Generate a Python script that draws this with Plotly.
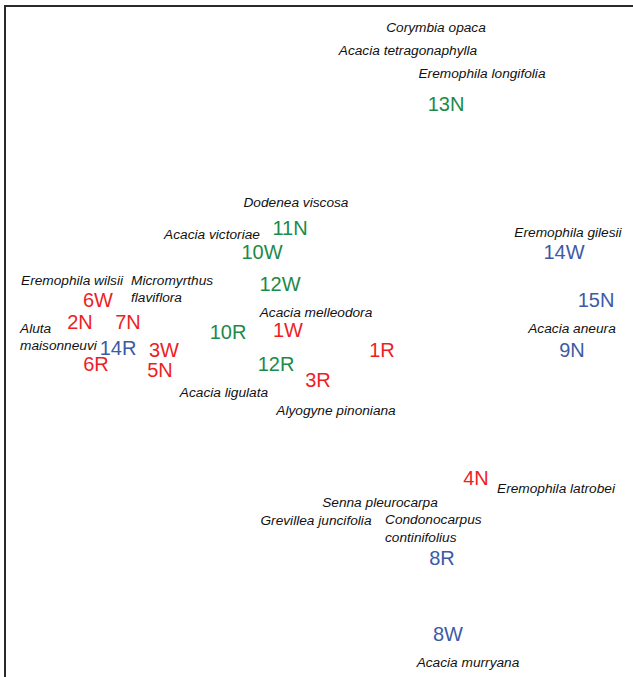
import plotly.graph_objects as go

# Ordination scores (axis 1, axis 2) for the sampling sites
site_labels = ["13N", "11N", "10W", "12W", "10R", "12R",
               "1W", "1R", "3R", "6W", "2N", "7N", "3W", "6R", "5N", "4N",
               "14R", "14W", "15N", "9N", "8R", "8W"]
site_groups = ["green", "green", "green", "green", "green", "green",
               "red", "red", "red", "red", "red", "red", "red", "red", "red", "red",
               "blue", "blue", "blue", "blue", "blue", "blue"]
site_ax1 = [0.63, -0.15, -0.29, -0.20, -0.46, -0.22,
            -0.16, 0.31, -0.01, -1.11, -1.20, -0.96, -0.78, -1.12, -0.80, 0.78,
            -1.01, 1.22, 1.38, 1.26, 0.61, 0.64]
site_ax2 = [1.23, 0.61, 0.49, 0.33, 0.09, -0.07,
            0.10, 0.00, -0.15, 0.25, 0.14, 0.14, 0.00, -0.07, -0.10, -0.64,
            0.01, 0.49, 0.25, 0.00, -1.04, -1.42]

# Species scores (centred labels)
species = ["Corymbia opaca", "Acacia tetragonaphylla", "Eremophila longifolia",
           "Dodenea viscosa", "Acacia victoriae", "Eremophila gilesii",
           "Eremophila wilsii", "Acacia melleodora", "Acacia aneura",
           "Acacia ligulata", "Alyogyne pinoniana", "Eremophila latrobei",
           "Senna pleurocarpa", "Grevillea juncifolia", "Acacia murryana"]
species_ax1 = [0.58, 0.44, 0.81, -0.12, -0.54, 1.24, -1.24, -0.02, 1.26,
               -0.48, 0.08, 1.18, 0.30, -0.02, 0.74]
species_ax2 = [1.615, 1.50, 1.385, 0.74, 0.58, 0.59, 0.35, 0.19, 0.11,
               -0.21, -0.30, -0.69, -0.76, -0.85, -1.56]

# Species with two-line names (label starts at the score)
species_wrapped = ["Micromyrthus<br>flaviflora", "Aluta<br>maisonneuvi",
                   "Condonocarpus<br>continifolius"]
wrapped_ax1 = [-0.945, -1.50, 0.325]
wrapped_ax2 = [0.3075, 0.0675, -0.89]

group_colours = {"green": "#1c8a48", "red": "#ee1d25", "blue": "#3c5aa6"}
label_font = "Liberation Sans, Arial, sans-serif"

fig = go.Figure()

for grp, col in group_colours.items():
    idx = [i for i, g in enumerate(site_groups) if g == grp]
    fig.add_trace(go.Scatter(
        x=[site_ax1[i] for i in idx],
        y=[site_ax2[i] for i in idx],
        text=[site_labels[i] for i in idx],
        mode="text",
        textposition="middle center",
        textfont=dict(family=label_font, size=20, color=col),
        hoverinfo="text",
        showlegend=False,
    ))

fig.add_trace(go.Scatter(
    x=species_ax1, y=species_ax2, text=species,
    mode="text", textposition="middle center",
    textfont=dict(family=label_font, size=13.7, color="#111111", style="italic"),
    hoverinfo="text", showlegend=False,
))

fig.add_trace(go.Scatter(
    x=wrapped_ax1, y=wrapped_ax2, text=species_wrapped,
    mode="text", textposition="middle right",
    textfont=dict(family=label_font, size=13.7, color="#111111", style="italic"),
    hoverinfo="text", showlegend=False,
))

fig.update_layout(
    width=633, height=677,
    margin=dict(l=6, r=0, t=7, b=0),
    paper_bgcolor="white", plot_bgcolor="white",
    xaxis=dict(range=[-1.57, 1.565], side="top", showline=True, linewidth=2,
               linecolor="#2a2a2a", showgrid=False, zeroline=False,
               showticklabels=False, ticks=""),
    yaxis=dict(range=[-1.6275, 1.7225], showline=True, linewidth=2,
               linecolor="#2a2a2a", showgrid=False, zeroline=False,
               showticklabels=False, ticks=""),
)

fig.write_html("out.html")
